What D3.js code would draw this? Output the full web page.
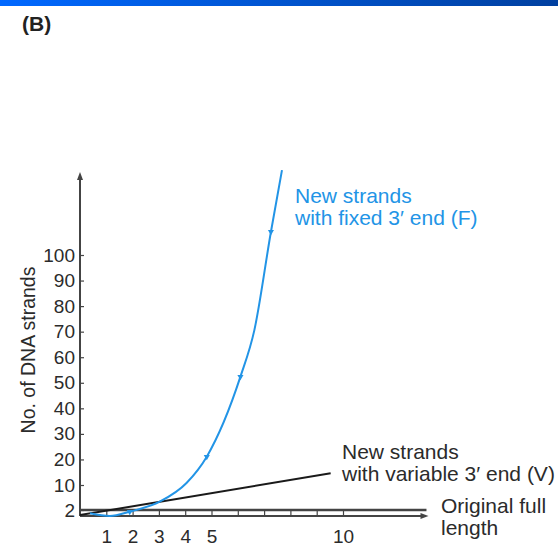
<!DOCTYPE html>
<html>
<head>
<meta charset="utf-8">
<script src="https://cdn.jsdelivr.net/npm/d3@7/dist/d3.min.js"></script>
<style>
  html, body { margin: 0; padding: 0; background: #fff; }
  svg { display: block; font-family: "Liberation Sans", Arial, sans-serif; }
</style>
</head>
<body>
<div id="chart"></div>
<script>
// values
var fixedX = [0.38, 1.14, 1.89, 3.03, 4.05, 4.82, 6.10, 6.63, 7.26, 7.68];
var fixedY = [0.9, 0, 1.43, 4.66, 10.8, 21.1, 52.4, 70.6, 109.1, 133.2];
var fixedMarks = [1.89, 4.82, 6.10, 7.26];
var variableX = [0, 9.53];
var variableY = [0.3, 14.6];
var originalY = 2;
var yTicks = [2, 10, 20, 30, 40, 50, 60, 70, 80, 90, 100];
var xTicks = [1, 2, 3, 4, 5, 6, 7, 8, 9, 10];
var xLabels = [1, 2, 3, 4, 5, 10];
var xEnd = 13.25, yEnd = 132.5;

var W = 558, H = 548;
var ink = "#2b2b2b", axisCol = "#444", blue = "#2294e6";

var svg = d3.select("#chart").append("svg").attr("width", W).attr("height", H);

var defs = svg.append("defs");
var grad = defs.append("linearGradient").attr("id", "topbar").attr("x1", "0").attr("x2", "1");
grad.append("stop").attr("offset", "0").attr("stop-color", "#0068ff");
grad.append("stop").attr("offset", "1").attr("stop-color", "#0040a0");
svg.append("rect").attr("x", 0).attr("y", 0).attr("width", W).attr("height", 6).attr("fill", "url(#topbar)");

svg.append("text").attr("x", 22).attr("y", 31)
  .attr("font-size", "21px").attr("font-weight", "bold").attr("fill", "#222")
  .text("(B)");

// scales (the original is not linear near the bottom)
var x = d3.scaleLinear().domain([0, 10]).range([80, 343]);
var y = d3.scaleLinear().domain([0, 2, 10, 100]).range([516, 510, 485, 255]);

// y axis
var yAxis = svg.append("g").attr("transform", "translate(" + x(0) + ",0)")
  .call(d3.axisLeft(y).tickValues(yTicks).tickSizeInner(-4).tickSizeOuter(0).tickPadding(5));
yAxis.select(".domain").remove();
yAxis.selectAll(".tick line").attr("stroke", axisCol).attr("stroke-width", 1.2);
yAxis.selectAll(".tick text").attr("font-size", "19px").attr("fill", ink).attr("font-family", null);

// x axis
var xAxis = svg.append("g").attr("transform", "translate(0," + y(0) + ")")
  .call(d3.axisBottom(x).tickValues(xTicks).tickSizeInner(-6).tickSizeOuter(0).tickPadding(14)
    .tickFormat(function(d){ return xLabels.indexOf(d) >= 0 ? d : ""; }));
xAxis.select(".domain").remove();
xAxis.selectAll(".tick line").attr("stroke", axisCol).attr("stroke-width", 1.2);
xAxis.selectAll(".tick text").attr("font-size", "19px").attr("fill", ink).attr("font-family", null);

// axis lines with arrow heads
function arrow(x1, y1, x2, y2, w) {
  svg.append("line").attr("x1", x1).attr("y1", y1).attr("x2", x2).attr("y2", y2)
    .attr("stroke", axisCol).attr("stroke-width", w);
}
function head(px, py, dir) {
  var p = dir === "up" ? [[px, py], [px - 3, py + 8], [px + 3, py + 8]]
                       : [[px, py], [px - 8, py - 3], [px - 8, py + 3]];
  svg.append("path").attr("d", "M" + p.join("L") + "Z").attr("fill", axisCol);
}
arrow(x(0), y(0), x(0), y(yEnd) + 4, 2);
head(x(0), y(yEnd), "up");
arrow(x(0), y(0), x(xEnd) - 4, y(0), 2);
head(x(xEnd), y(0), "right");
// original full length
arrow(x(0), y(originalY), x(xEnd) - 2, y(originalY), 2.4);

var line = d3.line().x(function(d){ return x(d[0]); }).y(function(d){ return y(d[1]); });

// variable 3' end
svg.append("path").datum(d3.zip(variableX, variableY))
  .attr("d", line).attr("fill", "none").attr("stroke", "#1a1a1a").attr("stroke-width", 2);

// fixed 3' end
svg.append("path").datum(d3.zip(fixedX, fixedY))
  .attr("d", line.curve(d3.curveMonotoneX)).attr("fill", "none")
  .attr("stroke", blue).attr("stroke-width", 2);

var fy = d3.scaleLinear().domain(fixedX).range(fixedY);
svg.selectAll(".mark").data(fixedMarks).enter().append("path")
  .attr("class", "mark")
  .attr("d", d3.symbol().type(d3.symbolTriangle).size(16))
  .attr("transform", function(d){ return "translate(" + x(d) + "," + y(fy(d)) + ") rotate(180)"; })
  .attr("fill", blue);

// y title
svg.append("text").attr("transform", "translate(35,350) rotate(-90)")
  .attr("text-anchor", "middle").attr("font-size", "19.5px").attr("fill", ink)
  .text("No. of DNA strands");

function label(tx, ty, lines, col) {
  var t = svg.append("text").attr("x", tx).attr("y", ty).attr("font-size", "21px").attr("fill", col);
  lines.forEach(function(s, i){
    t.append("tspan").attr("x", tx).attr("dy", i ? 22 : 0).text(s);
  });
}
label(295, 203, ["New strands", "with fixed 3\u2032 end (F)"], blue);
label(342, 459, ["New strands", "with variable 3\u2032 end (V)"], ink);
label(441, 513, ["Original full", "length"], ink);
</script>
</body>
</html>
